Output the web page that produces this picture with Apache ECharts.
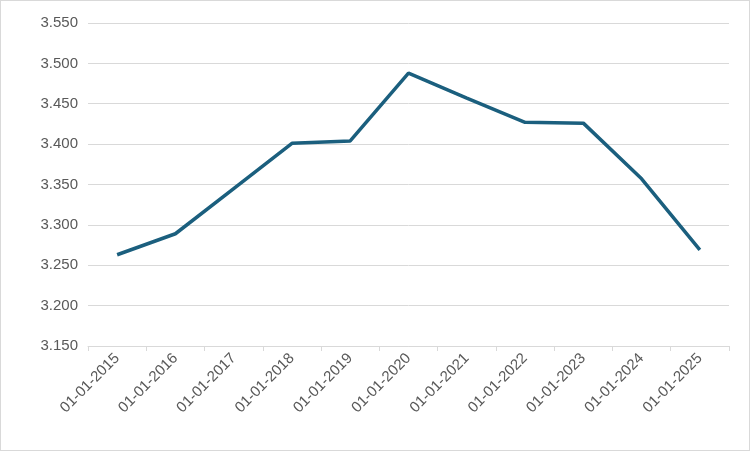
<!DOCTYPE html>
<html>
<head>
<meta charset="utf-8">
<script src="https://cdn.jsdelivr.net/npm/echarts@6/dist/echarts.min.js"></script>
<style>
  html, body { margin: 0; padding: 0; background: #fff; }
  #chart { width: 748px; height: 449px; border: 1px solid #d9d9d9; }
</style>
</head>
<body>
<div id="chart"></div>
<script>
const categories = ['01-01-2015', '01-01-2016', '01-01-2017', '01-01-2018', '01-01-2019',
  '01-01-2020', '01-01-2021', '01-01-2022', '01-01-2023', '01-01-2024', '01-01-2025'];
const values = [3.263, 3.289, 3.345, 3.401, 3.404, 3.488, 3.457, 3.427, 3.426, 3.357, 3.269];

const chart = echarts.init(document.getElementById('chart'));
chart.setOption({
  animation: false,
  grid: { left: 87, right: 20, top: 22, bottom: 104 },
  xAxis: {
    type: 'category',
    data: categories,
    boundaryGap: true,
    axisLine: { lineStyle: { color: '#d9d9d9' } },
    axisTick: { show: true, lineStyle: { color: '#d9d9d9' } },
    axisLabel: { rotate: 45, color: '#595959', fontSize: 15, fontFamily: 'Liberation Sans', margin: 10 }
  },
  yAxis: {
    type: 'value',
    min: 3.15, max: 3.55, interval: 0.05,
    axisLine: { show: false },
    axisTick: { show: false },
    splitLine: { lineStyle: { color: '#d9d9d9' } },
    axisLabel: { color: '#595959', fontSize: 15, fontFamily: 'Liberation Sans', margin: 10,
      formatter: v => v.toFixed(3) }
  },
  series: [{
    type: 'line',
    data: values,
    symbol: 'none',
    lineStyle: { color: '#1b5f7e', width: 3.5 }
  }]
});
</script>
</body>
</html>
